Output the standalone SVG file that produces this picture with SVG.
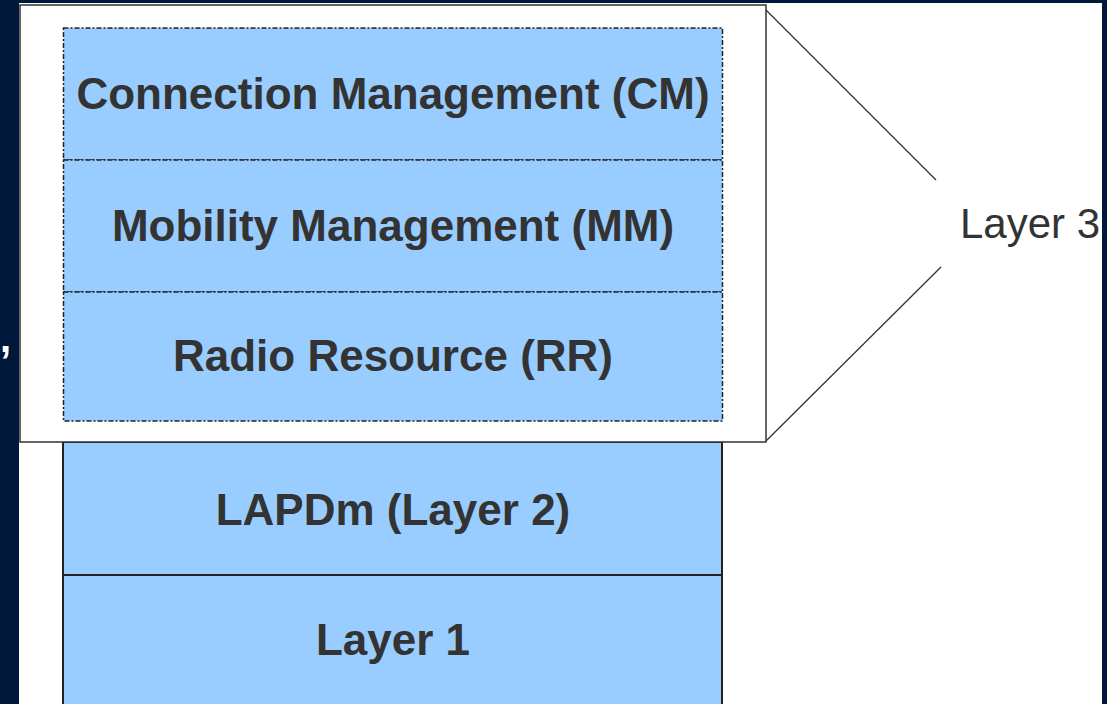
<svg xmlns="http://www.w3.org/2000/svg" width="1107" height="704" viewBox="0 0 1107 704">
<style>
.lbl{font-family:"Liberation Sans",Arial,sans-serif;font-weight:bold;font-size:44px;fill:#333333;text-anchor:middle}
.dash{fill:#99ccff;stroke:#222222;stroke-width:1.5;stroke-dasharray:5 2 2 2}
.solid{fill:#99ccff;stroke:#222222;stroke-width:2}
.conn{stroke:#333333;stroke-width:1.3;fill:none}
</style>
<rect x="0" y="0" width="1107" height="704" fill="#00183a"/>
<rect x="19" y="3" width="1083" height="701" fill="#ffffff"/>
<text x="0" y="352" font-family="Liberation Sans,Arial,sans-serif" font-weight="bold" font-size="40" fill="#ffffff">,</text>
<g id="layer2">
<rect class="solid" x="63" y="442" width="659" height="133"/>
<text class="lbl" x="393" y="525">LAPDm (Layer 2)</text>
</g>
<g id="layer1">
<rect class="solid" x="63" y="575" width="659" height="140"/>
<text class="lbl" x="393" y="655">Layer 1</text>
</g>
<g id="layer3box">
<rect x="20" y="5" width="746" height="437" fill="#ffffff" stroke="#333333" stroke-width="1.5"/>
</g>
<g id="cm">
<rect class="dash" x="63.5" y="28" width="659" height="132"/>
<text class="lbl" x="393" y="109">Connection Management (CM)</text>
</g>
<g id="mm">
<rect class="dash" x="63.5" y="160" width="659" height="132"/>
<text class="lbl" x="393" y="241">Mobility Management (MM)</text>
</g>
<g id="rr">
<rect class="dash" x="63.5" y="292" width="659" height="129"/>
<text class="lbl" x="393" y="371">Radio Resource (RR)</text>
</g>
<g id="connectors">
<line class="conn" x1="766" y1="10" x2="936" y2="180"/>
<line class="conn" x1="766" y1="441" x2="941" y2="267"/>
</g>
<g id="layer3label">
<text x="960" y="238" font-family="Liberation Sans,Arial,sans-serif" font-size="42" fill="#333333">Layer 3</text>
</g>
</svg>
